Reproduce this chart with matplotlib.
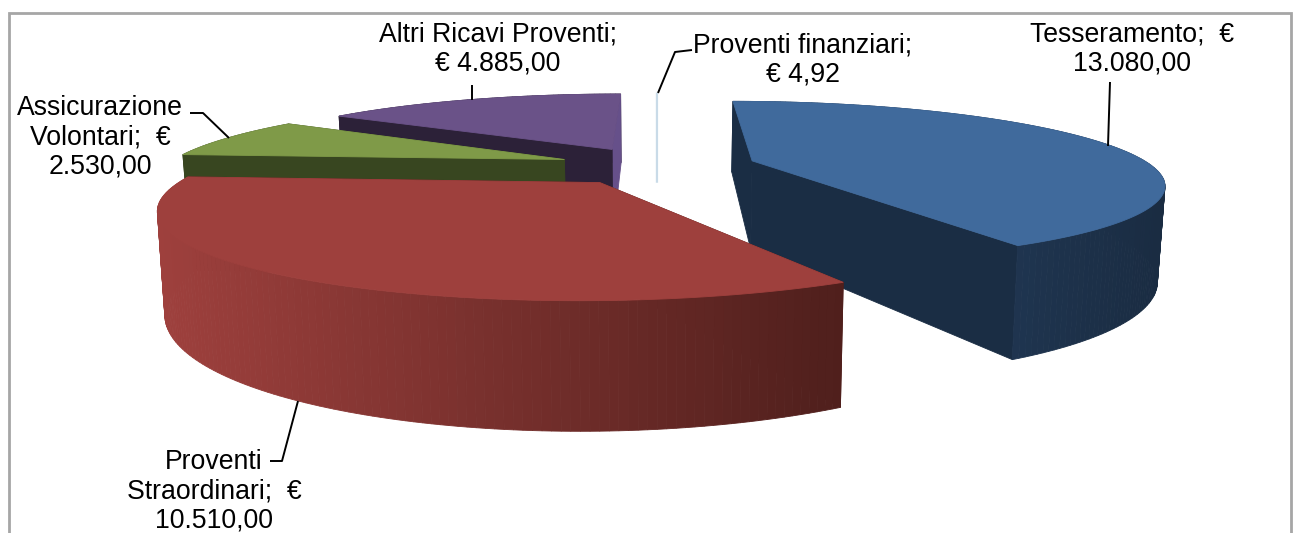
import numpy as np
import matplotlib
matplotlib.use('Agg')
import matplotlib.pyplot as plt
from matplotlib.colors import to_rgb

# slices, clockwise from 12 o'clock
names = ['Tesseramento', 'Proventi Straordinari', 'Assicurazione Volontari', 'Altri Ricavi Proventi', 'Proventi finanziari']
values = [13080.00, 10510.00, 2530.00, 4885.00, 4.92]
labels = ['Tesseramento;  €\n13.080,00',
          'Proventi\nStraordinari;  €\n10.510,00',
          'Assicurazione\nVolontari;  €\n2.530,00',
          'Altri Ricavi Proventi;\n€ 4.885,00',
          'Proventi finanziari;\n€ 4,92']
top_cols = ['#406a9c', '#9e403d', '#7f9a48', '#6a5288', '#c9dbe8']
wall_cols = ['#1a2d44', '#4f1f1c', '#384620', '#2c2138', '#c9dbe8']
arc_left = ['#1a2c42', '#9e403d', '#384620', '#2c2138', '#c9dbe8']
arc_right = ['#1f3550', '#4f1f1c', '#384620', '#2c2138', '#c9dbe8']
side_cols = ['#1a2d44', '#4f1f1c', '#384620', '#66508a', '#c9dbe8']  # wall at the slice's second edge
draw_order = [3, 2, 4, 0, 1]

label_pos = [(1132, 49), (214, 491), (100, 137), (498, 49), (803, 60)]
leaders = [[(1110, 82), (1108, 146)],
           [(270, 461), (282, 461), (298, 401)],
           [(190, 113), (203, 113), (229, 138)],
           [(472, 85), (472, 100)],
           [(692, 50), (675, 52), (658, 93)]]

# camera
x0, yh = 657, -134
F, H_top, H_bot = 1550, 1165, 1515
w_c, explode = 3.89, 0.25


def project(u, w, bottom=False):
    if bottom:
        return x0 + 0.985 * F * u / w, yh + H_bot / w
    return x0 + F * u / w, yh + H_top / w


def lerp(c1, c2, t):
    a, b = np.array(to_rgb(c1)), np.array(to_rgb(c2))
    return tuple(a + (b - a) * min(max(t, 0), 1))


fig = plt.figure(figsize=(12.95, 5.33), dpi=100)
ax = fig.add_axes([0, 0, 1, 1])
ax.set_xlim(0, 1295)
ax.set_ylim(533, 0)
ax.axis('off')

frac = np.array(values) / sum(values)
ends = np.cumsum(frac) * 2 * np.pi
starts = ends - frac * 2 * np.pi

for i in draw_order:
    a1, a2 = starts[i], ends[i]
    mid = (a1 + a2) / 2
    cu = explode * np.sin(mid)
    cw = w_c + explode * np.cos(mid)
    if i == 4:
        # too thin for a wedge: only the sliver of its edge shows
        ut, wt = cu, cw + 1
        xa, ya = project(ut, wt)
        xb, yb = project(ut, wt, True)
        ax.plot([xa, xb], [ya, yb + 22], color=top_cols[i], lw=1.6, solid_capstyle='butt')
        continue
    aa = np.linspace(a1, a2, max(int((a2 - a1) * 60), 8))
    ru = cu + np.sin(aa)
    rw = cw + np.cos(aa)

    faces = []
    for j in range(len(aa) - 1):
        xs1, ys1 = project(ru[j:j + 2], rw[j:j + 2])
        xs2, ys2 = project(ru[j:j + 2], rw[j:j + 2], True)
        t = (xs1.mean() - 160) / (845 - 160) if i == 1 else (xs1.mean() - 1012) / 150
        col = lerp(arc_left[i], arc_right[i], t) if i == 1 else lerp(arc_right[i], arc_left[i], t)
        faces.append((rw[j:j + 2].mean(), list(xs1) + list(xs2[::-1]), list(ys1) + list(ys2[::-1]), col))
    for k, col in ((0, wall_cols[i]), (-1, side_cols[i])):
        eu = np.array([cu, ru[k]])
        ew = np.array([cw, rw[k]])
        xs1, ys1 = project(eu, ew)
        xs2, ys2 = project(eu, ew, True)
        faces.append((ew.mean(), list(xs1) + list(xs2[::-1]), list(ys1) + list(ys2[::-1]), col))
    for _, xs, ys, col in sorted(faces, key=lambda f: -f[0]):
        ax.fill(xs, ys, color=col, lw=0.6)

    xt, yt = project(np.r_[cu, ru], np.r_[cw, rw])
    ax.fill(xt, yt, color=top_cols[i], lw=0.6)

for line in leaders:
    ax.plot(*zip(*line), color='black', lw=1.4, solid_capstyle='butt')

for txt, (x, y) in zip(labels, label_pos):
    ax.text(x, y, txt, ha='center', va='center', fontsize=19.2, family='Liberation Sans',
            color='black', linespacing=1.16)

# frame, cut off at the bottom of the picture
ax.plot([8.5, 8.5, 1290.5, 1290.5], [533, 12.5, 12.5, 533], color='#a6a6a6', lw=2, solid_joinstyle='miter')

fig.savefig('out.png', dpi=100)
